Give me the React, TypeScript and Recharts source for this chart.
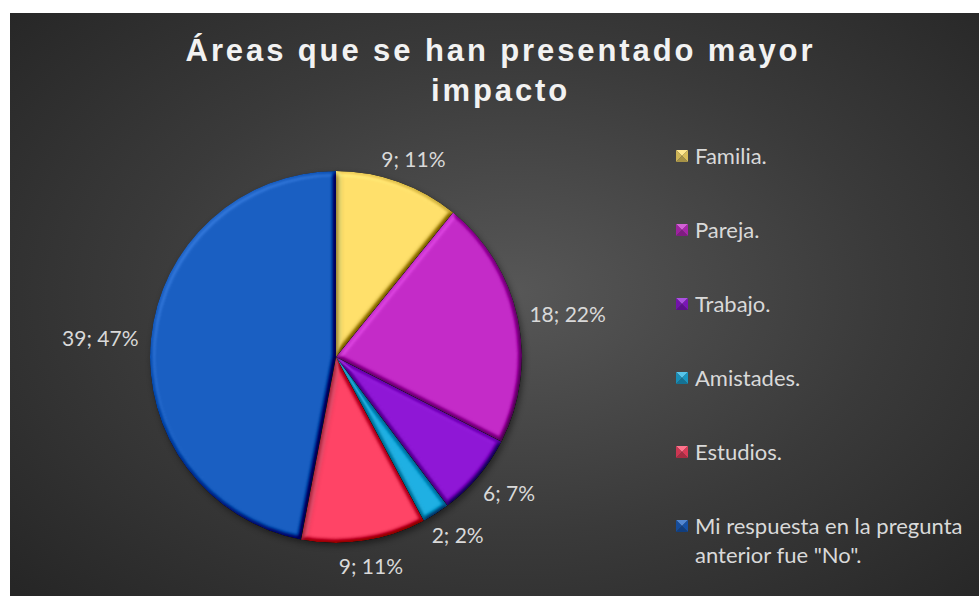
import React from "react";
import { PieChart, Pie, Cell, Legend } from "recharts";

const categories = [
  "Familia.",
  "Pareja.",
  "Trabajo.",
  "Amistades.",
  "Estudios.",
  'Mi respuesta en la pregunta anterior fue "No".',
];
const counts = [9, 18, 6, 2, 9, 39];
const colors = ["#FFE06B", "#C42BC8", "#8F17D6", "#1FB0E3", "#FF4466", "#1A5FC2"];

const data = categories.map((name, i) => ({ name, value: counts[i] }));

const W = 969;
const H = 583;
const RAD = Math.PI / 180;
const textColor = "#D9D9D9";
const font = "Lato, 'Open Sans', sans-serif";
const labelSize = 21;

function shade(hex: string, f: number) {
  const n = parseInt(hex.slice(1), 16);
  const ch = [(n >> 16) & 255, (n >> 8) & 255, n & 255].map((c) =>
    Math.max(0, Math.min(255, Math.round(f > 1 ? c + (255 - c) * (f - 1) : c * f)))
  );
  return `rgb(${ch.join(",")})`;
}

// label box sits just outside the slice, nearest corner on the mid-angle ray
function renderLabel(props: any) {
  const { cx, cy, midAngle, outerRadius, value, percent } = props;
  const text = `${value}; ${Math.round(percent * 100)}%`;
  const r = outerRadius + 14;
  const c = Math.cos(midAngle * RAD);
  const s = Math.sin(midAngle * RAD);
  const w = text.length * labelSize * 0.5;
  const h = labelSize;
  const x = cx + r * c + (c * w) / 2;
  const y = cy - r * s - (s * h) / 2;
  return (
    <text
      x={x}
      y={y}
      textAnchor="middle"
      dominantBaseline="central"
      fill={textColor}
      fontSize={labelSize}
      fontFamily={font}
    >
      {text}
    </text>
  );
}

function Marker({ color }: { color: string }) {
  return (
    <svg width={12} height={12} style={{ display: "block", flex: "none" }}>
      <polygon points="0,0 12,0 6,6" fill={shade(color, 1.25)} />
      <polygon points="0,0 6,6 0,12" fill={shade(color, 0.8)} />
      <polygon points="12,0 12,12 6,6" fill={shade(color, 0.85)} />
      <polygon points="0,12 6,6 12,12" fill={shade(color, 0.65)} />
    </svg>
  );
}

function renderLegend() {
  return (
    <div style={{ fontFamily: font, fontSize: 22, color: textColor }}>
      {data.map((d, i) => (
        <div
          key={d.name}
          style={{ display: "flex", alignItems: "flex-start", height: 74, lineHeight: "29px" }}
        >
          <div style={{ marginTop: 9, marginRight: 7 }}>
            <Marker color={colors[i]} />
          </div>
          <div style={{ width: 282 }}>{d.name}</div>
        </div>
      ))}
    </div>
  );
}

export default function App() {
  return (
    <div
      style={{
        position: "absolute",
        left: 10,
        top: 13,
        width: W,
        height: H,
        background: "radial-gradient(ellipse 70% 75% at 52% 48%, #575757 0%, #3a3a3a 55%, #262626 100%)",
      }}
    >
      <div
        style={{
          position: "absolute",
          left: 0,
          top: 18,
          width: W + 12,
          textAlign: "center",
          fontFamily: "'Liberation Sans', Arial, sans-serif",
          fontWeight: 700,
          fontSize: 31,
          letterSpacing: 2.9,
          lineHeight: "40px",
          color: "#F2F2F2",
        }}
      >
        Áreas que se han presentado mayor
        <br />
        impacto
      </div>
      <PieChart
        width={W}
        height={H}
        margin={{ top: 0, right: 0, bottom: 0, left: 0 }}
        style={{ position: "absolute", left: 0, top: 0 }}
      >
        <defs>
          <filter id="bevel" x="-10%" y="-10%" width="125%" height="125%" colorInterpolationFilters="sRGB">
            <feGaussianBlur in="SourceAlpha" stdDeviation="2.5" result="blur" />
            <feDiffuseLighting in="blur" surfaceScale="5" diffuseConstant="1" lightingColor="#ffffff" result="light">
              <feDistantLight azimuth={225} elevation={60} />
            </feDiffuseLighting>
            <feComposite in="SourceGraphic" in2="light" operator="arithmetic" k1={0} k2={1} k3={0.6} k4={-0.52} result="lit" />
            <feComposite in="lit" in2="SourceAlpha" operator="in" result="bev" />
            <feDropShadow in="bev" dx="2" dy="3" stdDeviation="3" floodColor="#000" floodOpacity="0.45" />
          </filter>
        </defs>
        <Pie
          data={data}
          dataKey="value"
          nameKey="name"
          cx={326}
          cy={344}
          outerRadius={186}
          startAngle={90}
          endAngle={-270}
          label={renderLabel}
          labelLine={false}
          isAnimationActive={false}
          stroke="none"
        >
          {data.map((d, i) => (
            <Cell key={d.name} fill={colors[i]} filter="url(#bevel)" />
          ))}
        </Pie>
        <Legend
          layout="vertical"
          align="right"
          verticalAlign="top"
          content={renderLegend}
          wrapperStyle={{ left: 666, top: 128, width: 300 }}
        />
      </PieChart>
    </div>
  );
}
